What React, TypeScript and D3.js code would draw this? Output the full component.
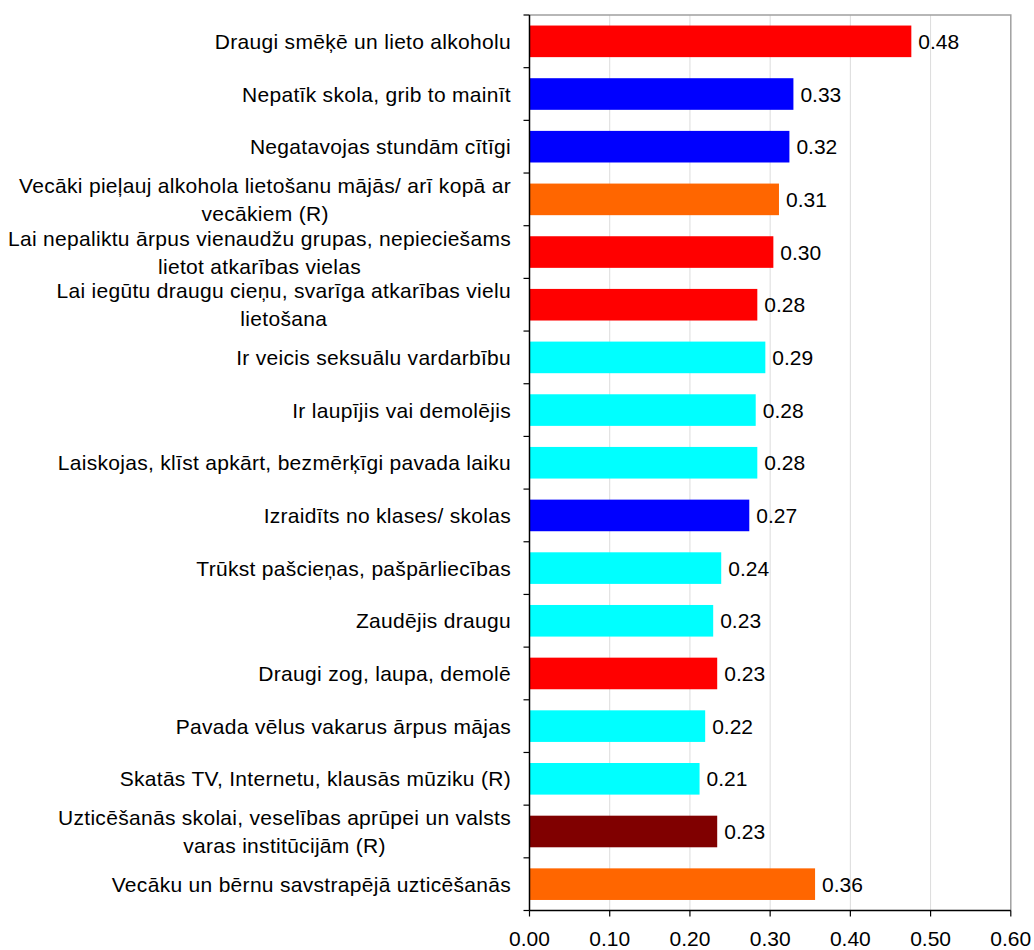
import React, { useEffect, useRef } from "react";
import * as d3 from "d3";

const categories: string[] = [
  "Draugi smēķē un lieto alkoholu",
  "Nepatīk skola, grib to mainīt",
  "Negatavojas stundām cītīgi",
  "Vecāki pieļauj alkohola lietošanu mājās/ arī kopā ar\nvecākiem (R)",
  "Lai nepaliktu ārpus vienaudžu grupas, nepieciešams\nlietot atkarības vielas",
  "Lai iegūtu draugu cieņu, svarīga atkarības vielu\nlietošana",
  "Ir veicis seksuālu vardarbību",
  "Ir laupījis vai demolējis",
  "Laiskojas, klīst apkārt, bezmērķīgi pavada laiku",
  "Izraidīts no klases/ skolas",
  "Trūkst pašcieņas, pašpārliecības",
  "Zaudējis draugu",
  "Draugi zog, laupa, demolē",
  "Pavada vēlus vakarus ārpus mājas",
  "Skatās TV, Internetu, klausās mūziku (R)",
  "Uzticēšanās skolai, veselības aprūpei un valsts\nvaras institūcijām (R)",
  "Vecāku un bērnu savstrapējā uzticēšanās",
];

const values: number[] = [
  0.476, 0.329, 0.324, 0.311, 0.304, 0.284, 0.294, 0.282, 0.284, 0.274,
  0.239, 0.229, 0.234, 0.219, 0.212, 0.234, 0.356,
];

const groups: string[] = [
  "peers", "school", "school", "family", "peers", "peers", "individual",
  "individual", "individual", "school", "individual", "individual", "peers",
  "individual", "individual", "institutions", "family",
];

const groupNames = ["peers", "school", "family", "individual", "institutions"];
const groupColors = ["#ff0000", "#0000ff", "#ff6600", "#00ffff", "#800000"];

const xTicks: number[] = [0, 0.1, 0.2, 0.3, 0.4, 0.5, 0.6];

const W = 1034;
const H = 950;
const FONT = "'Liberation Sans', Arial, sans-serif";
const FS = 21;

export default function App() {
  const ref = useRef<SVGSVGElement>(null);

  useEffect(() => {
    const svg = d3.select(ref.current);
    svg.selectAll("*").remove();

    const left = 529.5;
    const right = 1010.8;
    const top = 15;
    const bottom = 910.5;

    const x = d3.scaleLinear().domain([0, 0.6]).range([left, right]);
    const y = d3
      .scaleBand<number>()
      .domain(d3.range(categories.length))
      .range([top, bottom])
      .paddingInner(0.4)
      .paddingOuter(0.2);
    const color = d3.scaleOrdinal<string, string>().domain(groupNames).range(groupColors);

    svg.append("rect").attr("width", W).attr("height", H).attr("fill", "#fff");

    // gridlines
    svg
      .append("g")
      .selectAll("line")
      .data(xTicks.slice(1, -1))
      .join("line")
      .attr("x1", (d) => x(d))
      .attr("x2", (d) => x(d))
      .attr("y1", top)
      .attr("y2", bottom)
      .attr("stroke", "#dcdcdc")
      .attr("stroke-width", 1);

    // plot border (top, right)
    svg
      .append("path")
      .attr("d", `M${left},${top}H${right}V${bottom}`)
      .attr("fill", "none")
      .attr("stroke", "#a0a0a0")
      .attr("stroke-width", 1.5);

    // bars
    svg
      .append("g")
      .selectAll("rect")
      .data(values)
      .join("rect")
      .attr("x", x(0))
      .attr("y", (_, i) => y(i)!)
      .attr("width", (d) => x(d) - x(0))
      .attr("height", y.bandwidth())
      .attr("fill", (_, i) => color(groups[i]));

    // value labels
    const fmt = d3.format(".2f");
    svg
      .append("g")
      .selectAll("text")
      .data(values)
      .join("text")
      .attr("x", (d) => x(d) + 7)
      .attr("y", (_, i) => y(i)! + y.bandwidth() / 2)
      .attr("dy", "0.36em")
      .attr("font-family", FONT)
      .attr("font-size", FS)
      .attr("fill", "#000")
      .text((d) => fmt(d));

    // left axis
    const step = y.step();
    svg
      .append("line")
      .attr("x1", left)
      .attr("x2", left)
      .attr("y1", top)
      .attr("y2", bottom)
      .attr("stroke", "#000")
      .attr("stroke-width", 1.5);
    svg
      .append("g")
      .selectAll("line")
      .data(d3.range(categories.length + 1))
      .join("line")
      .attr("x1", left - 6)
      .attr("x2", left)
      .attr("y1", (i) => top + i * step)
      .attr("y2", (i) => top + i * step)
      .attr("stroke", "#000")
      .attr("stroke-width", 1.2);

    // category labels
    const labelRight = 511;
    const lh = 28;
    categories.forEach((cat, i) => {
      const lines = cat.split("\n");
      const cy = y(i)! + y.bandwidth() / 2;
      const g = svg.append("g");
      const texts = lines.map((ln, k) =>
        g
          .append("text")
          .attr("font-family", FONT)
          .attr("font-size", FS)
          .attr("letter-spacing", "0.3px")
          .attr("fill", "#000")
          .attr("y", cy + (k - (lines.length - 1) / 2) * lh)
          .attr("dy", "0.36em")
          .text(ln)
      );
      const widths = texts.map((t) => (t.node() as SVGTextElement).getComputedTextLength());
      const maxW = Math.max(...widths);
      const center = labelRight - maxW / 2;
      texts.forEach((t) => t.attr("x", center).attr("text-anchor", "middle"));
    });

    // bottom axis
    svg
      .append("line")
      .attr("x1", left)
      .attr("x2", right)
      .attr("y1", bottom)
      .attr("y2", bottom)
      .attr("stroke", "#000")
      .attr("stroke-width", 1.5);
    svg
      .append("g")
      .selectAll("line")
      .data(xTicks)
      .join("line")
      .attr("x1", (d) => x(d))
      .attr("x2", (d) => x(d))
      .attr("y1", bottom)
      .attr("y2", bottom + 6)
      .attr("stroke", "#000")
      .attr("stroke-width", 1.2);
    svg
      .append("g")
      .selectAll("text")
      .data(xTicks)
      .join("text")
      .attr("x", (d) => x(d))
      .attr("y", 946)
      .attr("text-anchor", "middle")
      .attr("font-family", FONT)
      .attr("font-size", FS)
      .attr("fill", "#000")
      .text((d) => fmt(d));
  }, []);

  return (
    <div style={{ position: "absolute", left: 0, top: 0 }}>
      <svg ref={ref} width={W} height={H} style={{ display: "block" }} />
    </div>
  );
}
